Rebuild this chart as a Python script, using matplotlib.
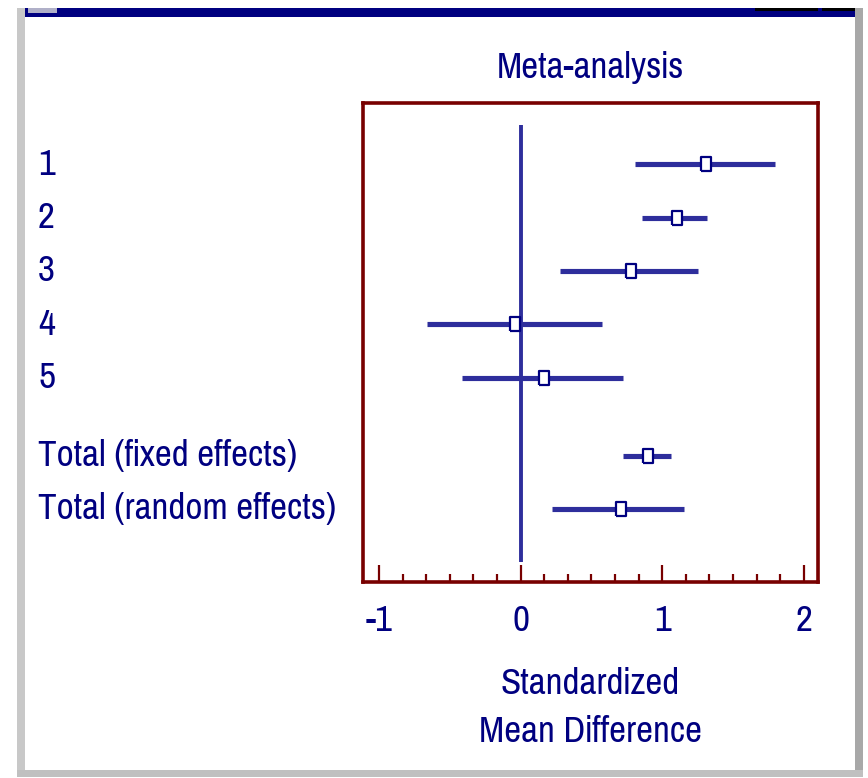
import matplotlib
matplotlib.use("Agg")
import matplotlib.pyplot as plt
from matplotlib.patches import Rectangle
from matplotlib.ticker import MultipleLocator, FixedLocator
import matplotlib.transforms as mtransforms
from matplotlib import font_manager

# data
studies = ["1", "2", "3", "4", "5", "Total (fixed effects)", "Total (random effects)"]
smd = [1.307, 1.102, 0.778, -0.039, 0.166, 0.900, 0.709]
ci_low = [0.806, 0.860, 0.277, -0.660, -0.417, 0.726, 0.222]
ci_high = [1.796, 1.319, 1.251, 0.573, 0.723, 1.062, 1.157]
tick_values = [-1, 0, 1, 2]

navy = "#000080"
line_blue = "#2e2e9c"
maroon = "#780000"

# narrow font like the original, with a fallback sized so the labels still fit
installed = {f.name for f in font_manager.fontManager.ttflist}
if "Pragati Narrow" in installed:
    plt.rcParams["font.family"] = ["Pragati Narrow", "DejaVu Sans"]
    fsize = 29
else:
    plt.rcParams["font.family"] = ["Roboto Condensed", "Liberation Sans", "DejaVu Sans"]
    fsize = 24
plt.rcParams["axes.unicode_minus"] = False

fig = plt.figure(figsize=(8.68, 7.78), dpi=100)
W, H = 868, 778


def px_rect(x0, y0, x1, y1, color):
    # rectangle given in pixel coords from the top left
    fig.patches.append(Rectangle((x0 / W, 1 - y1 / H), (x1 - x0) / W, (y1 - y0) / H,
                                 transform=fig.transFigure, color=color, lw=0, zorder=0))


# window chrome
px_rect(24, 8, 855, 17, "#000080")
px_rect(755, 8, 818, 11, "#000000")
px_rect(822, 8, 855, 11, "#000000")
px_rect(28, 8, 57, 13, "#b0b0c8")
px_rect(17, 8, 25, 777, "#c8c8c8")
px_rect(855, 8, 863, 777, "#a8a8a8")
px_rect(17, 770, 863, 777, "#c0c0c0")

ax = fig.add_axes([363 / W, 1 - 581.7 / H, (818 - 363) / W, (581.7 - 103) / H])

# rows: five studies, then a gap before the two totals
gap = 0.465
row_y = [i if i < 5 else i + gap for i in range(len(studies))]

ax.vlines(0, -0.74, row_y[-1] + 1, color=line_blue, lw=2.8, zorder=2)
ax.hlines(row_y, ci_low, ci_high, color=line_blue, lw=3.7, zorder=3)
box = [(-0.33, -0.5), (0.33, -0.5), (0.33, 0.5), (-0.33, 0.5), (-0.33, -0.5)]
ax.plot(smd, row_y, linestyle="none", marker=box, markersize=10.5,
        markerfacecolor="white", markeredgecolor=navy, markeredgewidth=1.6, zorder=4)

ax.set_xlim(-1.113, 2.10)
ax.set_ylim(7.83, -1.15)

for s in ax.spines.values():
    s.set_color(maroon)
    s.set_linewidth(2.6)

ax.xaxis.set_major_locator(FixedLocator(tick_values))
ax.xaxis.set_minor_locator(MultipleLocator(1 / 6))
ax.tick_params(axis="x", which="major", direction="in", length=12, width=1.6,
               color=maroon, labelcolor=navy, labelsize=fsize, pad=16)
ax.tick_params(axis="x", which="minor", direction="in", length=6, width=1.6, color=maroon)
ax.set_yticks([])

ax.set_xlabel("Standardized\nMean Difference", color=navy, fontsize=fsize,
              labelpad=22, linespacing=1.55)
ax.set_title("Meta-analysis", color=navy, fontsize=fsize, pad=18)

lbl = mtransforms.blended_transform_factory(fig.transFigure, ax.transData)
for name, y in zip(studies, row_y):
    ax.text(38 / W, y, name, transform=lbl, ha="left", va="center",
            color=navy, fontsize=fsize, clip_on=False)

fig.savefig("out.png", dpi=100, facecolor="white")
